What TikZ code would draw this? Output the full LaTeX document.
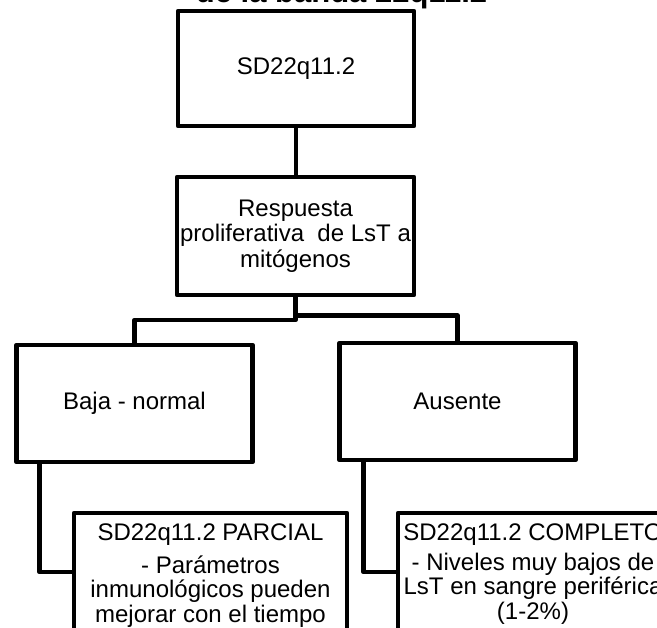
\documentclass[tikz,border=0pt]{standalone}
\usepackage{fontspec}
\setmainfont{Liberation Sans}
\begin{document}
\begin{tikzpicture}[x=1pt,y=-1pt,
  box/.style={draw=black, line width=4.6pt, line join=round, fill=white, inner sep=0pt, outer sep=0pt, align=center, font=\fontsize{24}{25.5}\selectfont},
  txt/.style={inner sep=0pt, outer sep=0pt, align=center, font=\fontsize{24}{24.5}\selectfont},
  conn/.style={draw=black, line width=4.6pt, line join=round}]
\useasboundingbox (0,0) rectangle (657,628);
\clip (0,0) rectangle (657,628);

\node[inner sep=0pt, anchor=base, font=\fontsize{31}{31}\bfseries\selectfont] (title) at (341.5,3) {de la banda 22q11.2};

\node[box, minimum width=236pt, minimum height=115pt] (top) at (296,68.5) {SD22q11.2};
\node[box, minimum width=237pt, minimum height=118pt] (prolif) at (295.5,236) {Respuesta\\proliferativa\ \ de LsT a\\mitógenos};
\node[box, minimum width=236pt, minimum height=117pt] (baja) at (134.5,403.5) {Baja - normal};
\node[box, minimum width=236pt, minimum height=117pt] (aus) at (457.5,401.5) {Ausente};
\node[box, anchor=north west, minimum width=273pt, minimum height=140pt] (parc) at (74,513) {};
\node[box, anchor=north west, minimum width=270pt, minimum height=140pt] (comp) at (398,513) {};

\node[txt, anchor=base] (parct) at (210.5,541) {SD22q11.2 PARCIAL};
\node[txt, anchor=north] (parcb) at (210.5,555.5) {- Parámetros\\inmunológicos pueden\\mejorar con el tiempo};
\node[txt, anchor=base] (compt) at (533,541) {SD22q11.2 COMPLETO};
\node[txt, anchor=north] (compb) at (533,553) {- Niveles muy bajos de\\LsT en sangre periférica\\(1-2\%)};

\draw[conn] (top.south) -- (top.south |- prolif.north);
\draw[conn] (prolif.south) -- ++(0,25) -| (baja.north);
\draw[conn] (prolif.south) ++(0,20.5) -| (aus.north);
\draw[conn] ([xshift=23pt]baja.south west) |- ([yshift=-59pt]parc.north west);
\draw[conn] ([xshift=24pt]aus.south west) |- ([yshift=-59pt]comp.north west);
\end{tikzpicture}
\end{document}
